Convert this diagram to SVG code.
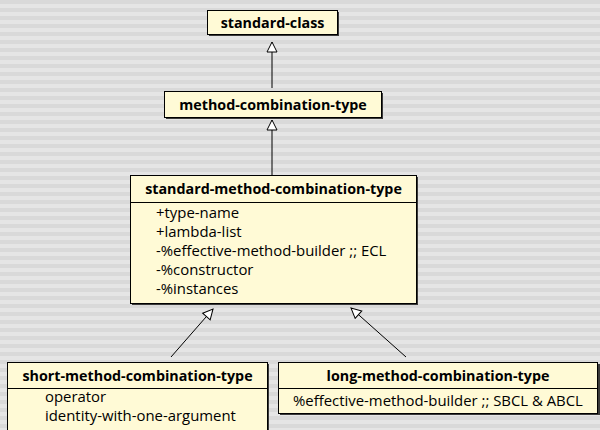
<svg xmlns="http://www.w3.org/2000/svg" width="600" height="430" viewBox="0 0 600 430">
  <defs>
    <pattern id="stripes" width="600" height="8" patternUnits="userSpaceOnUse">
      <rect width="600" height="4" fill="#d9d9d9"/>
      <rect y="4" width="600" height="4" fill="#e5e5e5"/>
    </pattern>
    <marker id="inherit" viewBox="0 0 12 12" refX="11" refY="6" markerWidth="12" markerHeight="12" markerUnits="userSpaceOnUse" orient="auto">
      <path d="M1,1 L11,6 L1,11 Z" fill="#ffffff" stroke="#000" stroke-width="1"/>
    </marker>
  </defs>
  <style>
    .box { fill: #fffad6; stroke: #000; stroke-width: 1; }
    .shadow { fill: #3a3a3a; }
    .sep { stroke: #000; stroke-width: 1; }
    .title { font-family: "Open Sans", "Liberation Sans", sans-serif; font-weight: bold; font-size: 14.3px; fill: #000; text-anchor: middle; }
    .attr { font-family: "Open Sans", "Liberation Sans", sans-serif; font-size: 14.9px; fill: #000; }
    .edge { stroke: #000; stroke-width: 1; fill: none; marker-end: url(#inherit); }
  </style>

  <rect width="600" height="430" fill="url(#stripes)"/>

  <g id="connectors">
    <line class="edge" x1="272" y1="88" x2="272" y2="42"/>
    <line class="edge" x1="272" y1="175" x2="272" y2="120"/>
    <line class="edge" x1="171" y1="357" x2="213" y2="309"/>
    <line class="edge" x1="406" y1="357" x2="351" y2="308"/>
  </g>

  <g id="standard-class">
    <rect class="shadow" x="209" y="12" width="130" height="24"/>
    <rect class="box" x="207.5" y="10.5" width="130" height="24"/>
    <text class="title" x="272.5" y="27.5">standard-class</text>
  </g>

  <g id="method-combination-type">
    <rect class="shadow" x="166" y="93" width="217" height="26"/>
    <rect class="box" x="164.5" y="91.5" width="217" height="26"/>
    <text class="title" x="273" y="109.5">method-combination-type</text>
  </g>

  <g id="standard-method-combination-type">
    <rect class="shadow" x="132" y="177" width="286" height="128"/>
    <rect class="box" x="130.5" y="175.5" width="286" height="128"/>
    <line class="sep" x1="130.5" y1="202.5" x2="416.5" y2="202.5"/>
    <text class="title" x="273.5" y="194">standard-method-combination-type</text>
    <text class="attr" x="156" y="218">+type-name</text>
    <text class="attr" x="156" y="237">+lambda-list</text>
    <text class="attr" x="156" y="256">-%effective-method-builder ;; ECL</text>
    <text class="attr" x="156" y="275">-%constructor</text>
    <text class="attr" x="156" y="294">-%instances</text>
  </g>

  <g id="short-method-combination-type">
    <rect class="shadow" x="9" y="364" width="260" height="80"/>
    <rect class="box" x="7.5" y="362.5" width="260" height="80"/>
    <line class="sep" x1="7.5" y1="388.5" x2="267.5" y2="388.5"/>
    <text class="title" x="137.5" y="381">short-method-combination-type</text>
    <text class="attr" x="45" y="402">operator</text>
    <text class="attr" x="45" y="421">identity-with-one-argument</text>
  </g>

  <g id="long-method-combination-type">
    <rect class="shadow" x="280" y="364" width="320" height="51"/>
    <rect class="box" x="278.5" y="362.5" width="319" height="51"/>
    <line class="sep" x1="278.5" y1="388.5" x2="597.5" y2="388.5"/>
    <text class="title" x="438" y="381">long-method-combination-type</text>
    <text class="attr" x="293" y="406">%effective-method-builder ;; SBCL &amp; ABCL</text>
  </g>
</svg>
